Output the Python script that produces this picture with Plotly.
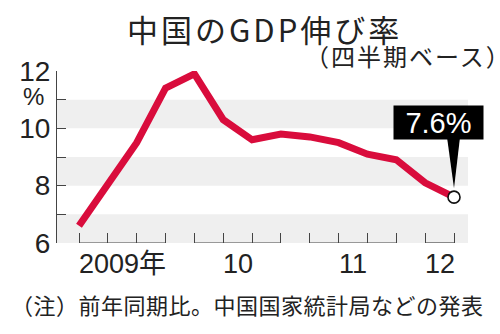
import plotly.graph_objects as go

# Quarterly year-on-year GDP growth, 2009 Q1 - 2012 Q2 (%)
quarters = ["2009Q1", "2009Q2", "2009Q3", "2009Q4",
            "2010Q1", "2010Q2", "2010Q3", "2010Q4",
            "2011Q1", "2011Q2", "2011Q3", "2011Q4",
            "2012Q1", "2012Q2"]
growth = [6.6, 8.1, 9.5, 11.4,
          11.9, 10.3, 9.6, 9.8,
          9.7, 9.5, 9.1, 8.9,
          8.1, 7.6]
years = ["2009年", "10", "11", "12"]
y_ticks = [6, 7, 8, 9, 10, 11, 12]
y_tick_text = ["6", "", "8", "", "10", "", "12"]
bands = [(6, 7), (8, 9), (10, 11)]

W, H = 500, 334
ML, MR, MT, MB = 57, 32, 71, 91
PW = W - ML - MR

LATIN = "Liberation Sans, Noto Sans CJK JP, sans-serif"
CJK = "Noto Sans CJK JP, sans-serif"
INK = "#222222"
AXIS = "#444444"
RED = "#d90c3c"


def px_x(p):
    """Figure pixel column -> paper x of the plot area."""
    return (p - ML) / PW


xs = list(range(len(quarters)))
year_of = [q[:4] for q in quarters]
year_keys = sorted(set(year_of))

fig = go.Figure()

fig.add_trace(go.Scatter(
    x=xs, y=growth, mode="lines",
    line=dict(color=RED, width=7, shape="linear"),
    hoverinfo="skip", showlegend=False,
))

# latest value marker
fig.add_trace(go.Scatter(
    x=[xs[-1]], y=[growth[-1]], mode="markers",
    marker=dict(size=12, color="white", line=dict(color="#111111", width=1.6)),
    hoverinfo="skip", showlegend=False,
))

shapes = []
for lo, hi in bands:
    shapes.append(dict(type="rect", xref="paper", yref="y", x0=0, x1=1,
                       y0=lo, y1=hi, fillcolor="#efefef", line_width=0,
                       layer="below"))

annotations = []
for key, label in zip(year_keys, years):
    idx = [i for i, y in enumerate(year_of) if y == key]
    shapes.append(dict(type="line", xref="x", yref="y", x0=idx[0], x1=idx[-1],
                       y0=y_ticks[0], y1=y_ticks[0],
                       line=dict(color=AXIS, width=1.2)))
    annotations.append(dict(x=(idx[0] + idx[-1]) / 2, y=0, xref="x", yref="paper",
                            text=label, showarrow=False, yanchor="top", yshift=-4,
                            font=dict(family=LATIN, size=27, color=INK)))

# pointer wedge from the callout box to the latest point
shapes.append(dict(type="path", xref="x", yref="y",
                   xsizemode="pixel", ysizemode="pixel",
                   xanchor=xs[-1], yanchor=growth[-1],
                   path="M-7,60 L6,60 L0,9 Z",
                   fillcolor="black", line_width=0))

annotations.append(dict(x=xs[-1], y=growth[-1], xref="x", yref="y",
                        text=f"{growth[-1]}%", showarrow=False,
                        xshift=-16, yshift=75, width=89, height=33,
                        bgcolor="black", borderpad=0,
                        font=dict(family=LATIN, size=29, color="white")))

annotations += [
    dict(x=px_x(264), y=1, xref="paper", yref="paper", yanchor="middle",
         text='<span style="letter-spacing:3px">中国のGDP伸び率</span>',
         showarrow=False, yshift=MT - 28,
         font=dict(family=CJK, size=31, color=INK)),
    dict(x=px_x(W - 2), y=1, xref="paper", yref="paper", xanchor="right",
         yanchor="middle",
         text=('<span style="letter-spacing:2px">（四半期ベース</span>'
               '<span style="letter-spacing:-14px">）</span>'),
         showarrow=False, yshift=MT - 55,
         font=dict(family=CJK, size=24, color=INK)),
    dict(x=px_x(9), y=0, xref="paper", yref="paper", xanchor="left",
         yanchor="middle",
         text='<span style="letter-spacing:0.5px">（注）前年同期比。中国国家統計局などの発表</span>',
         showarrow=False, yshift=(H - MB) - 304,
         font=dict(family=CJK, size=22, color=INK)),
    dict(x=0, y=11.1, xref="paper", yref="y", xanchor="right",
         text="%", showarrow=False, xshift=-11,
         font=dict(family=LATIN, size=24, color=INK)),
]

fig.update_layout(
    width=W, height=H,
    margin=dict(l=ML, r=MR, t=MT, b=MB),
    paper_bgcolor="white", plot_bgcolor="white",
    shapes=shapes, annotations=annotations,
    xaxis=dict(range=[-0.763, 13.485], tickvals=xs, ticktext=[""] * len(xs),
               ticks="inside", ticklen=10, tickcolor=AXIS, tickwidth=1.2,
               showline=False, showgrid=False, zeroline=False, fixedrange=True),
    yaxis=dict(range=[6, 12], tickvals=y_ticks, ticktext=y_tick_text,
               ticks="inside", ticklen=9, tickcolor=AXIS, tickwidth=1.2,
               showline=True, linecolor=AXIS, linewidth=1.2,
               showgrid=False, zeroline=False, fixedrange=True,
               tickfont=dict(family=LATIN, size=28, color=INK)),
)

fig.write_html("out.html")
